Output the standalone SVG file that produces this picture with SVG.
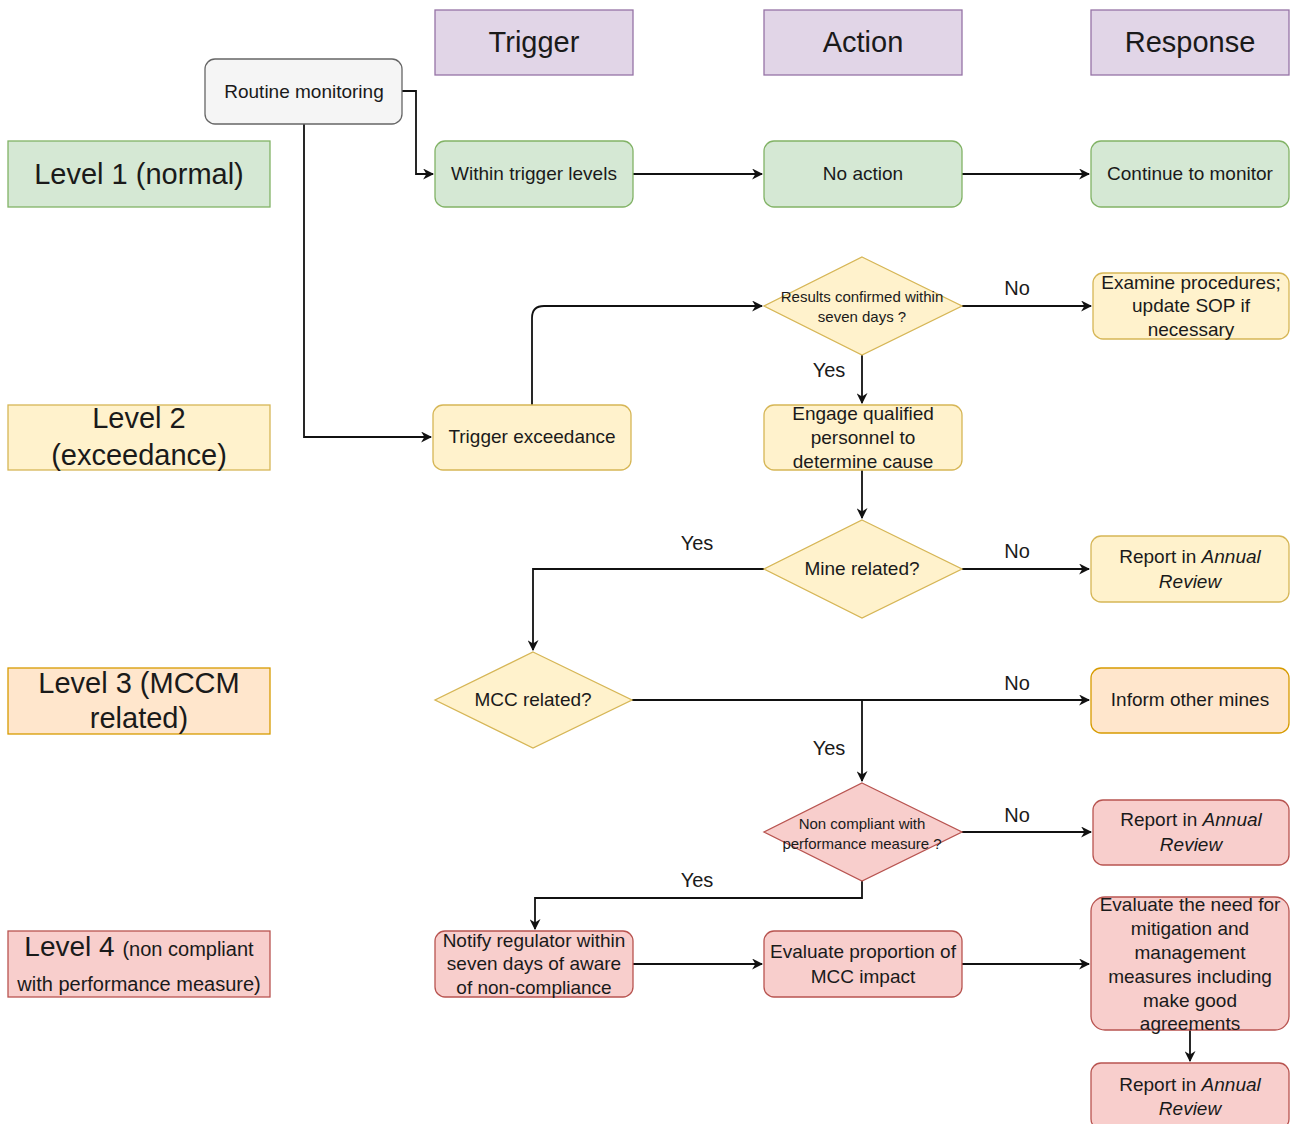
<svg xmlns="http://www.w3.org/2000/svg" width="1293" height="1124" viewBox="0 0 1293 1124">
<defs>
<marker id="arr" viewBox="0 0 10 10" refX="9" refY="5" markerWidth="11" markerHeight="11" orient="auto" markerUnits="userSpaceOnUse">
<path d="M0,0 L10,5 L0,10 L3,5 z" fill="#111"/>
</marker>
<style>
text{font-family:"Liberation Sans",Arial,sans-serif;fill:#1a1a1a;text-anchor:middle}
.n{font-size:19px}
.s{font-size:15px}
.h{font-size:29px}
.l{font-size:20px}
.hdr{fill:#e1d5e7;stroke:#9673a6;stroke-width:1.3}
.grn{fill:#d5e8d4;stroke:#82b366;stroke-width:1.3}
.yel{fill:#fff2cc;stroke:#d6b656;stroke-width:1.3}
.org{fill:#ffe6cc;stroke:#d79b00;stroke-width:1.3}
.red{fill:#f8cecc;stroke:#b85450;stroke-width:1.3}
.gry{fill:#f5f5f5;stroke:#666;stroke-width:1.3}
.c{fill:none;stroke:#111;stroke-width:1.8}
.i{font-style:italic}
</style>
</defs>
<rect width="1293" height="1124" fill="#fff"/>

<g id="connectors">
<path class="c" d="M402,91 H416 V174 H433" marker-end="url(#arr)"/>
<path class="c" d="M633,174 H762" marker-end="url(#arr)"/>
<path class="c" d="M962,174 H1089" marker-end="url(#arr)"/>
<path class="c" d="M304,124 V437 H431" marker-end="url(#arr)"/>
<path class="c" d="M532,405 V318 Q532,306 544,306 H762" marker-end="url(#arr)"/>
<path class="c" d="M962,306 H1091" marker-end="url(#arr)"/>
<path class="c" d="M862,355 V403" marker-end="url(#arr)"/>
<path class="c" d="M862,470 V518" marker-end="url(#arr)"/>
<path class="c" d="M764,569 H533 V650" marker-end="url(#arr)"/>
<path class="c" d="M962,569 H1089" marker-end="url(#arr)"/>
<path class="c" d="M632,700 H1089" marker-end="url(#arr)"/>
<path class="c" d="M862,700 V781" marker-end="url(#arr)"/>
<path class="c" d="M962,832 H1091" marker-end="url(#arr)"/>
<path class="c" d="M862,881 V898 H535 V929" marker-end="url(#arr)"/>
<path class="c" d="M633,964 H762" marker-end="url(#arr)"/>
<path class="c" d="M962,964 H1089" marker-end="url(#arr)"/>
<path class="c" d="M1190,1030 V1061" marker-end="url(#arr)"/>
<text class="l" x="1017" y="295">No</text>
<text class="l" x="829" y="377">Yes</text>
<text class="l" x="697" y="550">Yes</text>
<text class="l" x="1017" y="558">No</text>
<text class="l" x="1017" y="690">No</text>
<text class="l" x="829" y="755">Yes</text>
<text class="l" x="1017" y="822">No</text>
<text class="l" x="697" y="887">Yes</text>
</g>

<g id="hdr-trigger"><rect class="hdr" x="435" y="10" width="198" height="65"/><text class="h" x="534" y="52">Trigger</text></g>
<g id="hdr-action"><rect class="hdr" x="764" y="10" width="198" height="65"/><text class="h" x="863" y="52">Action</text></g>
<g id="hdr-response"><rect class="hdr" x="1091" y="10" width="198" height="65"/><text class="h" x="1190" y="52">Response</text></g>

<g id="routine"><rect class="gry" x="205" y="59" width="197" height="65" rx="10"/><text class="n" x="304" y="98">Routine monitoring</text></g>

<g id="level1"><rect class="grn" x="8" y="141" width="262" height="66"/><text class="h" x="139" y="184">Level 1 (normal)</text></g>
<g id="within"><rect class="grn" x="435" y="141" width="198" height="66" rx="10"/><text class="n" x="534" y="180">Within trigger levels</text></g>
<g id="noaction"><rect class="grn" x="764" y="141" width="198" height="66" rx="10"/><text class="n" x="863" y="180">No action</text></g>
<g id="continue"><rect class="grn" x="1091" y="141" width="198" height="66" rx="10"/><text class="n" x="1190" y="180">Continue to monitor</text></g>

<g id="results"><polygon class="yel" points="862,257 962,306 862,355 764,306"/><text class="s" x="862" y="302">Results confirmed within</text><text class="s" x="862" y="322">seven days ?</text></g>
<g id="examine"><rect class="yel" x="1093" y="273" width="196" height="66" rx="10"/><text class="n" x="1191" y="289">Examine procedures;</text><text class="n" x="1191" y="312">update SOP if</text><text class="n" x="1191" y="336">necessary</text></g>

<g id="level2"><rect class="yel" x="8" y="405" width="262" height="65"/><text class="h" x="139" y="428">Level 2</text><text class="h" x="139" y="465">(exceedance)</text></g>
<g id="trigexc"><rect class="yel" x="433" y="405" width="198" height="65" rx="10"/><text class="n" x="532" y="443">Trigger exceedance</text></g>
<g id="engage"><rect class="yel" x="764" y="405" width="198" height="65" rx="10"/><text class="n" x="863" y="420">Engage qualified</text><text class="n" x="863" y="444">personnel to</text><text class="n" x="863" y="468">determine cause</text></g>

<g id="mine"><polygon class="yel" points="862,520 962,569 862,618 764,569"/><text class="n" x="862" y="575">Mine related?</text></g>
<g id="report1"><rect class="yel" x="1091" y="536" width="198" height="66" rx="10"/><text class="n" x="1190" y="563">Report in <tspan class="i">Annual</tspan></text><text class="n i" x="1190" y="588">Review</text></g>

<g id="level3"><rect class="org" x="8" y="668" width="262" height="66"/><text class="h" x="139" y="693">Level 3 (MCCM</text><text class="h" x="139" y="728">related)</text></g>
<g id="mcc"><polygon class="yel" points="533,652 632,700 533,748 435,700"/><text class="n" x="533" y="706">MCC related?</text></g>
<g id="inform"><rect class="org" x="1091" y="668" width="198" height="65" rx="10"/><text class="n" x="1190" y="706">Inform other mines</text></g>

<g id="noncomp"><polygon class="red" points="862,783 962,832 862,881 764,832"/><text class="s" x="862" y="829">Non compliant with</text><text class="s" x="862" y="849">performance measure ?</text></g>
<g id="report2"><rect class="red" x="1093" y="800" width="196" height="65" rx="10"/><text class="n" x="1191" y="826">Report in <tspan class="i">Annual</tspan></text><text class="n i" x="1191" y="851">Review</text></g>

<g id="level4"><rect class="red" x="8" y="931" width="262" height="66"/><text x="139" y="956"><tspan font-size="28">Level 4 </tspan><tspan font-size="20">(non compliant</tspan></text><text class="l" x="139" y="991">with performance measure)</text></g>
<g id="notify"><rect class="red" x="435" y="931" width="198" height="66" rx="10"/><text class="n" x="534" y="947">Notify regulator within</text><text class="n" x="534" y="970">seven days of aware</text><text class="n" x="534" y="994">of non-compliance</text></g>
<g id="evalprop"><rect class="red" x="764" y="931" width="198" height="66" rx="10"/><text class="n" x="863" y="958">Evaluate proportion of</text><text class="n" x="863" y="983">MCC impact</text></g>
<g id="evalneed"><rect class="red" x="1091" y="897" width="198" height="133" rx="14"/><text class="n" x="1190" y="911">Evaluate the need for</text><text class="n" x="1190" y="935">mitigation and</text><text class="n" x="1190" y="959">management</text><text class="n" x="1190" y="983">measures including</text><text class="n" x="1190" y="1007">make good</text><text class="n" x="1190" y="1030">agreements</text></g>
<g id="report3"><rect class="red" x="1091" y="1063" width="198" height="66" rx="10"/><text class="n" x="1190" y="1091">Report in <tspan class="i">Annual</tspan></text><text class="n i" x="1190" y="1115">Review</text></g>
</svg>
